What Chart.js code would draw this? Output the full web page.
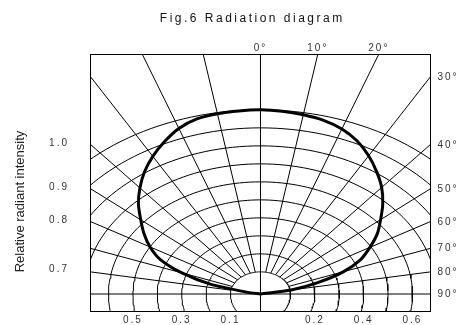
<!DOCTYPE html>
<html><head><meta charset="utf-8">
<script src="https://cdn.jsdelivr.net/npm/chart.js@4.4.1/dist/chart.umd.min.js"></script>
<style>html,body{margin:0;padding:0;background:#fff;}canvas{display:block;}</style>
</head><body>
<canvas id="c" width="463" height="325"></canvas>
<script>
// ---- data ----
const titleText = 'Fig.6 Radiation diagram';
const yTitleText = 'Relative radiant intensity';
const curveAngles = [-85,-80,-75,-70,-65,-60,-55,-50,-45,-40,-35,-30,-25,-20,-15,-10,-5,0,5,10,15,20,25,30,35,40,45,50,55,60,65,70,75,80,85];
const curveIntensity = [0,0.03,0.19,0.32,0.43,0.50,0.56,0.618,0.685,0.746,0.806,0.86,0.91,0.956,0.984,0.994,0.998,1.0,0.996,0.988,0.976,0.953,0.915,0.864,0.807,0.75,0.686,0.62,0.562,0.495,0.43,0.34,0.22,0.105,0];
const arcLevels = [0.1,0.2,0.3,0.4,0.5,0.6,0.7,0.8,0.9,1.0];
const spokeAngles = [-80,-70,-60,-50,-40,-30,-20,-10,10,20,30,40,50,60,70,80];
const bottomTickValues = [-0.5,-0.3,-0.1,0.2,0.4,0.6];
const bottomTickLabels = ['0.5','0.3','0.1','0.2','0.4','0.6'];
const topTickAngles = [0,10,20];
const topTickLabels = ['0°','10°','20°'];
const rightTickAngles = [30,40,50,60,70,80,90];
const rightTickLabels = ['30°','40°','50°','60°','70°','80°','90°'];
const leftTickPositions = [0.836,0.594,0.408,0.137];
const leftTickLabels = ['1.0','0.9','0.8','0.7'];

// ---- geometry ----
const R0 = 0.023, BELOW = 0.033;
const XMIN = -0.697, XMAX = 0.695, YMIN = -0.0944, YMAX = 1.3333;
const rad = d => d * Math.PI / 180;
function polar(r, deg, rBelow) {
  const c = Math.cos(rad(deg));
  const ry = (c < 0 && rBelow !== undefined) ? rBelow : r;
  return {x: r * Math.sin(rad(deg)), y: ry * c};
}

const FONT = 'Liberation Sans, Arial, sans-serif';
const datasets = [];
// radiation curve (on top)
datasets.push({
  data: curveAngles.map((a, i) => {
    const v = curveIntensity[i];
    return polar(v > 0 ? v + R0 : 0, a);
  }),
  borderColor: '#000', borderWidth: 3, tension: 0.25, clip: 0
});
// arcs
arcLevels.forEach(v => {
  const r = v + R0, pts = [];
  for (let t = -180; t <= 180; t += 2) pts.push(polar(r, t, r + BELOW));
  datasets.push({data: pts, borderColor: '#000', borderWidth: 1, clip: 0});
});
// spokes
spokeAngles.forEach(a => {
  datasets.push({data: [polar(arcLevels[0] + R0, a), polar(3, a)], borderColor: '#000', borderWidth: 1, clip: 0});
});
// axes lines
datasets.push({data: [{x: 0, y: YMIN}, {x: 0, y: YMAX}], borderColor: '#000', borderWidth: 1, clip: 0});
datasets.push({data: [{x: XMIN, y: 0}, {x: XMAX, y: 0}], borderColor: '#000', borderWidth: 1, clip: 0});
datasets.forEach(d => { d.pointRadius = 0; d.showLine = true; d.fill = false; });

const tickFont = {family: FONT, size: 10};
const border = {display: true, color: '#000', width: 1};
const grid = {display: false, drawTicks: false, tickLength: 0};
const fixSize = (w, h) => s => {
  if (w !== undefined) s.width = w;
  if (h !== undefined) s.height = h;
  s.paddingTop = 0; s.paddingBottom = 0; s.paddingLeft = 0; s.paddingRight = 0;
};

const textPatch = {
  id: 'textPatch',
  beforeDraw(chart) {
    const tb = chart.titleBlock;
    if (tb && !tb._p) {
      const d = tb.draw.bind(tb);
      tb.draw = function (a) { const c = chart.ctx; c.save(); c.letterSpacing = '2.5px'; c.translate(-8, 0); d(a); c.restore(); };
      tb._p = true;
    }
    Object.values(chart.scales).forEach(s => {
      if (s._p) return;
      const dl = s.drawLabels.bind(s);
      s.drawLabels = function (a) { const c = chart.ctx; c.save(); c.letterSpacing = '2px'; dl(a); c.restore(); };
      if (s.id === 'y') {
        const dt = s.drawTitle.bind(s);
        s.drawTitle = function () { const c = chart.ctx; c.save(); c.translate(0, 19); dt(); c.restore(); };
      }
      s._p = true;
    });
  }
};

new Chart(document.getElementById('c'), {
  type: 'scatter',
  data: {datasets},
  plugins: [textPatch],
  options: {
    responsive: false, animation: false, devicePixelRatio: 1,
    layout: {padding: 0, autoPadding: false},
    plugins: {
      legend: {display: false}, tooltip: {enabled: false},
      title: {display: true, text: titleText, color: '#111', fullSize: false,
        font: {family: FONT, size: 12, weight: 'normal'}, padding: {top: 11, bottom: 0}}
    },
    scales: {
      x: {
        type: 'linear', position: 'bottom', min: XMIN, max: XMAX,
        grid, border,
        afterBuildTicks: s => { s.ticks = bottomTickValues.map(v => ({value: Math.sign(v) * (Math.abs(v) + R0)})); },
        afterFit: fixSize(undefined, 14),
        ticks: {autoSkip: false, maxRotation: 0, minRotation: 0, padding: 3.7, color: '#333', font: tickFont,
          callback: (v, i) => bottomTickLabels[i]}
      },
      xTop: {
        type: 'linear', position: 'top', min: XMIN, max: XMAX,
        grid, border,
        afterBuildTicks: s => { s.ticks = topTickAngles.map(a => ({value: YMAX * Math.tan(rad(a))})); },
        afterFit: fixSize(undefined, 28.6),
        ticks: {autoSkip: false, maxRotation: 0, minRotation: 0, padding: 0, color: '#333', font: tickFont,
          callback: (v, i) => topTickLabels[i]}
      },
      y: {
        type: 'linear', position: 'left', min: YMIN, max: YMAX,
        grid, border,
        afterBuildTicks: s => { s.ticks = leftTickPositions.map(v => ({value: v})); },
        afterFit: fixSize(90.5, undefined),
        title: {display: true, text: yTitleText, color: '#222', font: {family: FONT, size: 13}, padding: {top: 12.7, bottom: 0}},
        ticks: {autoSkip: false, padding: 21.5, color: '#333', font: tickFont,
          callback: (v, i) => leftTickLabels[i]}
      },
      yRight: {
        type: 'linear', position: 'right', min: YMIN, max: YMAX,
        grid, border,
        afterBuildTicks: s => { s.ticks = rightTickAngles.map(a => ({value: a === 90 ? 0 : XMAX / Math.tan(rad(a))})); },
        afterFit: fixSize(33, undefined),
        ticks: {autoSkip: false, padding: 7.5, color: '#333', font: tickFont,
          callback: (v, i) => rightTickLabels[i]}
      }
    }
  }
});
</script>
</body></html>
